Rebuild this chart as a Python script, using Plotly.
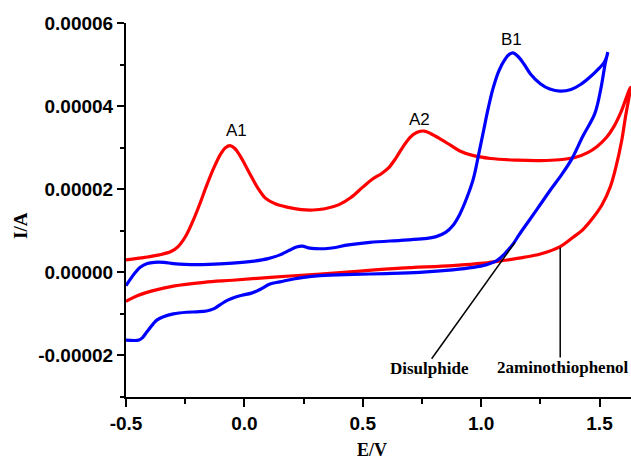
import plotly.graph_objects as go

# ---- data (E in V, I in units of 1e-5 A) ----
red_fwd_E = [-0.50, -0.42, -0.36, -0.31, -0.28, -0.25, -0.22, -0.19, -0.16, -0.13, -0.10, -0.08, -0.06,
             -0.04, -0.02, 0.00, 0.03, 0.06, 0.09, 0.13, 0.18, 0.24, 0.29, 0.34, 0.40, 0.45, 0.50, 0.54,
             0.58, 0.61, 0.64, 0.67, 0.70, 0.73, 0.76, 0.79, 0.83, 0.87, 0.91, 0.96, 1.04, 1.15, 1.25,
             1.33, 1.40, 1.45, 1.49, 1.53, 1.56, 1.59, 1.61, 1.63]
red_fwd_I = [0.30, 0.36, 0.42, 0.50, 0.62, 0.85, 1.20, 1.62, 2.08, 2.50, 2.85, 3.00, 3.05,
             2.98, 2.82, 2.62, 2.30, 2.00, 1.78, 1.65, 1.57, 1.51, 1.50, 1.53, 1.63, 1.80, 2.05, 2.24,
             2.38, 2.52, 2.75, 3.02, 3.25, 3.37, 3.40, 3.33, 3.20, 3.06, 2.92, 2.82, 2.74, 2.70, 2.69,
             2.71, 2.77, 2.88, 3.03, 3.25, 3.50, 3.85, 4.15, 4.45]
red_rev_E = [1.63, 1.61, 1.594, 1.57, 1.545, 1.51, 1.475, 1.43, 1.39, 1.334, 1.25, 1.18, 1.10, 1.01,
             0.88, 0.66, 0.46, 0.32, 0.11, -0.05, -0.17, -0.30, -0.385, -0.45, -0.50]
red_rev_I = [4.40, 3.75, 3.18, 2.55, 2.05, 1.62, 1.33, 1.03, 0.85, 0.62, 0.44, 0.36, 0.29, 0.22,
             0.16, 0.10, 0.02, -0.04, -0.12, -0.19, -0.24, -0.33, -0.44, -0.56, -0.70]

blue_fwd_E = [-0.50, -0.48, -0.46, -0.44, -0.41, -0.38, -0.34, -0.30, -0.25, -0.15, -0.05, 0.04, 0.10,
              0.15, 0.19, 0.22, 0.245, 0.27, 0.30, 0.36, 0.44, 0.53, 0.66, 0.76, 0.81, 0.85, 0.88,
              0.91, 0.94, 0.967, 0.99, 1.01, 1.03, 1.05, 1.075, 1.10, 1.12, 1.135, 1.155, 1.18, 1.21,
              1.25, 1.29, 1.334, 1.38, 1.42, 1.46, 1.50, 1.52, 1.53, 1.535]
blue_fwd_I = [-0.32, -0.15, 0.00, 0.12, 0.21, 0.24, 0.24, 0.21, 0.19, 0.19, 0.22, 0.27, 0.33,
              0.42, 0.53, 0.61, 0.63, 0.59, 0.57, 0.58, 0.66, 0.72, 0.77, 0.81, 0.86, 0.96, 1.12,
              1.40, 1.80, 2.25, 2.85, 3.40, 3.95, 4.42, 4.85, 5.12, 5.25, 5.28, 5.20, 5.02, 4.76,
              4.54, 4.41, 4.36, 4.40, 4.52, 4.70, 4.92, 5.05, 5.18, 5.30]
blue_rev_E = [1.535, 1.524, 1.505, 1.48, 1.43, 1.383, 1.34, 1.291, 1.24, 1.193, 1.16, 1.136, 1.10,
              1.066, 1.02, 0.967, 0.88, 0.74, 0.60, 0.46, 0.32, 0.25, 0.207, 0.15, 0.108, 0.07, 0.03,
              -0.01, -0.04, -0.07, -0.10, -0.13, -0.16, -0.20, -0.244, -0.30, -0.342, -0.37, -0.385,
              -0.41, -0.43, -0.445, -0.50]
blue_rev_I = [5.30, 5.02, 4.40, 3.82, 3.28, 2.73, 2.35, 1.97, 1.55, 1.17, 0.90, 0.69, 0.45,
              0.28, 0.18, 0.12, 0.06, 0.00, -0.03, -0.05, -0.08, -0.12, -0.16, -0.23, -0.28, -0.40, -0.50,
              -0.55, -0.60, -0.67, -0.77, -0.88, -0.93, -0.95, -0.96, -1.00, -1.07, -1.15, -1.24,
              -1.42, -1.57, -1.63, -1.63]

scale = 1e-5
peak_labels = ["A1", "A2", "B1"]
peak_E = [-0.035, 0.738, 1.129]
peak_I = [3.42, 3.67, 5.60]

# pointer lines for the curve names: (E0, I0) on curve -> (E1, I1) at text
name_labels = ["Disulphide", "2aminothiophenol"]
name_text_E = [0.780, 1.059]
name_text_I = [-2.32, -2.29]
pointer_E0 = [1.143, 1.334]
pointer_I0 = [0.72, 0.60]
pointer_E1 = [0.791, 1.334]
pointer_I1 = [-2.08, -2.05]

x_ticks = [-0.5, 0.0, 0.5, 1.0, 1.5]
x_tick_text = ["-0.5", "0.0", "0.5", "1.0", "1.5"]
y_ticks = [-0.00002, 0.0, 0.00002, 0.00004, 0.00006]
y_tick_text = ["-0.00002", "0.00000", "0.00002", "0.00004", "0.00006"]

RED = "#ff0000"
BLUE = "#0000ff"

fig = go.Figure()
fig.add_trace(go.Scatter(x=red_fwd_E + red_rev_E,
                         y=[v * scale for v in red_fwd_I + red_rev_I],
                         mode="lines", line=dict(color=RED, width=3.2, shape="spline", smoothing=1.0),
                         showlegend=False, hoverinfo="skip"))
fig.add_trace(go.Scatter(x=blue_fwd_E + blue_rev_E,
                         y=[v * scale for v in blue_fwd_I + blue_rev_I],
                         mode="lines", line=dict(color=BLUE, width=3.2, shape="spline", smoothing=1.0),
                         showlegend=False, hoverinfo="skip"))

for e0, i0, e1, i1 in zip(pointer_E0, pointer_I0, pointer_E1, pointer_I1):
    fig.add_shape(type="line", x0=e0, y0=i0 * scale, x1=e1, y1=i1 * scale,
                  xref="x", yref="y", line=dict(color="black", width=1.5))

for t, e, i in zip(peak_labels, peak_E, peak_I):
    fig.add_annotation(x=e, y=i * scale, text=t, showarrow=False,
                       font=dict(family="Liberation Sans, Arial", size=17, color="black"))

fig.add_annotation(x=name_text_E[0], y=name_text_I[0] * scale, text=name_labels[0], showarrow=False,
                   xanchor="center", yanchor="middle",
                   font=dict(family="Liberation Serif, Times New Roman", size=17,
                             color="black", weight="bold"))
fig.add_annotation(x=name_text_E[1], y=name_text_I[1] * scale, text=name_labels[1], showarrow=False,
                   xanchor="left", yanchor="middle",
                   font=dict(family="Liberation Serif, Times New Roman", size=17,
                             color="black", weight="bold"))

# axis titles
fig.add_annotation(xref="paper", yref="paper", x=-0.208, y=0.46, text="I/A", textangle=-90,
                   xanchor="center", yanchor="middle",
                   showarrow=False, font=dict(family="Liberation Serif, Times New Roman", size=19,
                                              color="black", weight="bold"))
fig.add_annotation(xref="paper", yref="paper", x=0.4865, y=-0.143, text="E/V",
                   xanchor="center", yanchor="middle",
                   showarrow=False, font=dict(family="Liberation Serif, Times New Roman", size=18,
                                              color="black", weight="bold"))

axis_font = dict(family="Liberation Sans, Arial", size=19, color="black", weight="bold")
fig.update_xaxes(range=[-0.5, 1.633], tickvals=x_ticks, ticktext=x_tick_text, showgrid=False,
                 zeroline=False, showline=True, linecolor="black", linewidth=2, ticks="outside",
                 ticklen=8, tickwidth=2, tickcolor="black", tickfont=axis_font,
                 minor=dict(ticks="outside", ticklen=5, tickwidth=2, tickcolor="black", dtick=0.25,
                            tick0=-0.5, showgrid=False))
fig.update_yaxes(range=[-0.00003, 0.00006], tickvals=y_ticks, ticktext=y_tick_text, showgrid=False,
                 zeroline=False, showline=True, linecolor="black", linewidth=2, ticks="outside",
                 ticklen=7, tickwidth=2, tickcolor="black", tickfont=axis_font,
                 minor=dict(ticks="outside", ticklen=4, tickwidth=2, tickcolor="black", dtick=0.00001,
                            tick0=0, showgrid=False))
fig.update_layout(width=631, height=459, margin=dict(l=126, r=0, t=23, b=62),
                  paper_bgcolor="white", plot_bgcolor="white")
fig.write_html("out.html")
